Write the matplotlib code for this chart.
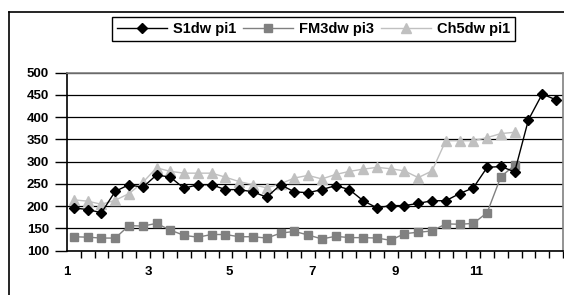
import matplotlib
matplotlib.use('Agg')

import matplotlib.pyplot as plt
from matplotlib.lines import Line2D
import numpy as np

plt.rcParams['font.family'] = ['Liberation Sans', 'DejaVu Sans']
plt.rcParams['font.weight'] = 'bold'

# values, one point per category slot
s1dwpi1 = [196, 192, 185, 233, 248, 242, 270, 265, 240, 248, 248, 237,
           237, 232, 220, 248, 232, 230, 237, 246, 237, 212, 196, 201,
           201, 206, 212, 212, 228, 241, 287, 289, 277, 394, 452, 439]
fm3dwpi3 = [131, 130, 128, 128, 156, 155, 161, 146, 134, 130, 136, 136,
            131, 131, 128, 139, 143, 135, 126, 132, 129, 129, 128, 123,
            138, 141, 144, 160, 159, 161, 185, 266, 292]
ch5dwpi1 = [214, 211, 204, 213, 228, 253, 286, 278, 274, 274, 274, 265,
            255, 248, 241, 250, 263, 269, 261, 271, 278, 283, 287, 284,
            279, 264, 279, 347, 347, 347, 354, 363, 366]
series_names = ['S1dw pi1', 'FM3dw pi3', 'Ch5dw pi1']
x_labels = ['1', '3', '5', '7', '9', '11']
n_slots = 36


def main():
    fig = plt.figure(figsize=(5.64, 2.95), dpi=100)
    ax = fig.add_axes([0.1188, 0.1508, 0.8792, 0.6028])

    ax.set_axisbelow(True)
    ax.yaxis.grid(True, color='black', linewidth=0.9)

    def xs(vals):
        return np.arange(len(vals)) + 0.5

    ax.plot(xs(s1dwpi1), s1dwpi1, color='black', lw=1.0,
            marker='D', markersize=5.5, label=series_names[0], zorder=5)
    ax.plot(xs(fm3dwpi3), fm3dwpi3, color='#808080', lw=1.0,
            marker='s', markersize=6, label=series_names[1], zorder=3)
    ax.plot(xs(ch5dwpi1), ch5dwpi1, color='#c0c0c0', lw=1.0,
            marker='^', markersize=7, label=series_names[2], zorder=4)

    ax.set_xlim(0, n_slots)
    ax.set_ylim(100, 500)
    ax.set_yticks(range(100, 501, 50))
    ax.tick_params(axis='y', direction='out', length=9, width=1,
                   labelsize=9.5, pad=4)

    ax.set_xticks([0, 5.9, 11.8, 17.8, 23.8, 29.7])
    ax.set_xticklabels(x_labels)
    ax.set_xticks(range(n_slots + 1), minor=True)
    ax.tick_params(axis='x', which='major', length=0, labelsize=9.5, pad=11)
    ax.tick_params(axis='x', which='minor', direction='out', length=5,
                   width=1)

    for side in ('top', 'right'):
        ax.spines[side].set_color('#808080')
        ax.spines[side].set_linewidth(1.2)
    for side in ('left', 'bottom'):
        ax.spines[side].set_color('black')
        ax.spines[side].set_linewidth(1.2)

    leg = ax.legend(loc='center', bbox_to_anchor=(0.556, 0.902),
                    bbox_transform=fig.transFigure, ncol=3,
                    fancybox=False, framealpha=1, edgecolor='black',
                    fontsize=10.5, handlelength=3.4, columnspacing=0.5,
                    handletextpad=0.4, borderpad=0.35, borderaxespad=0)
    leg.get_frame().set_linewidth(1.0)

    # outer chart border (cropped on right and bottom)
    x0, y0 = 9 / 564, 1 - 12 / 295
    fig.add_artist(Line2D([x0, x0], [0, y0], color='black', lw=1.2,
                          transform=fig.transFigure))
    fig.add_artist(Line2D([x0, 1], [y0, y0], color='black', lw=1.2,
                          transform=fig.transFigure))

    fig.savefig('out.png', dpi=100)
    plt.close(fig)


if __name__ == "__main__":
    main()
